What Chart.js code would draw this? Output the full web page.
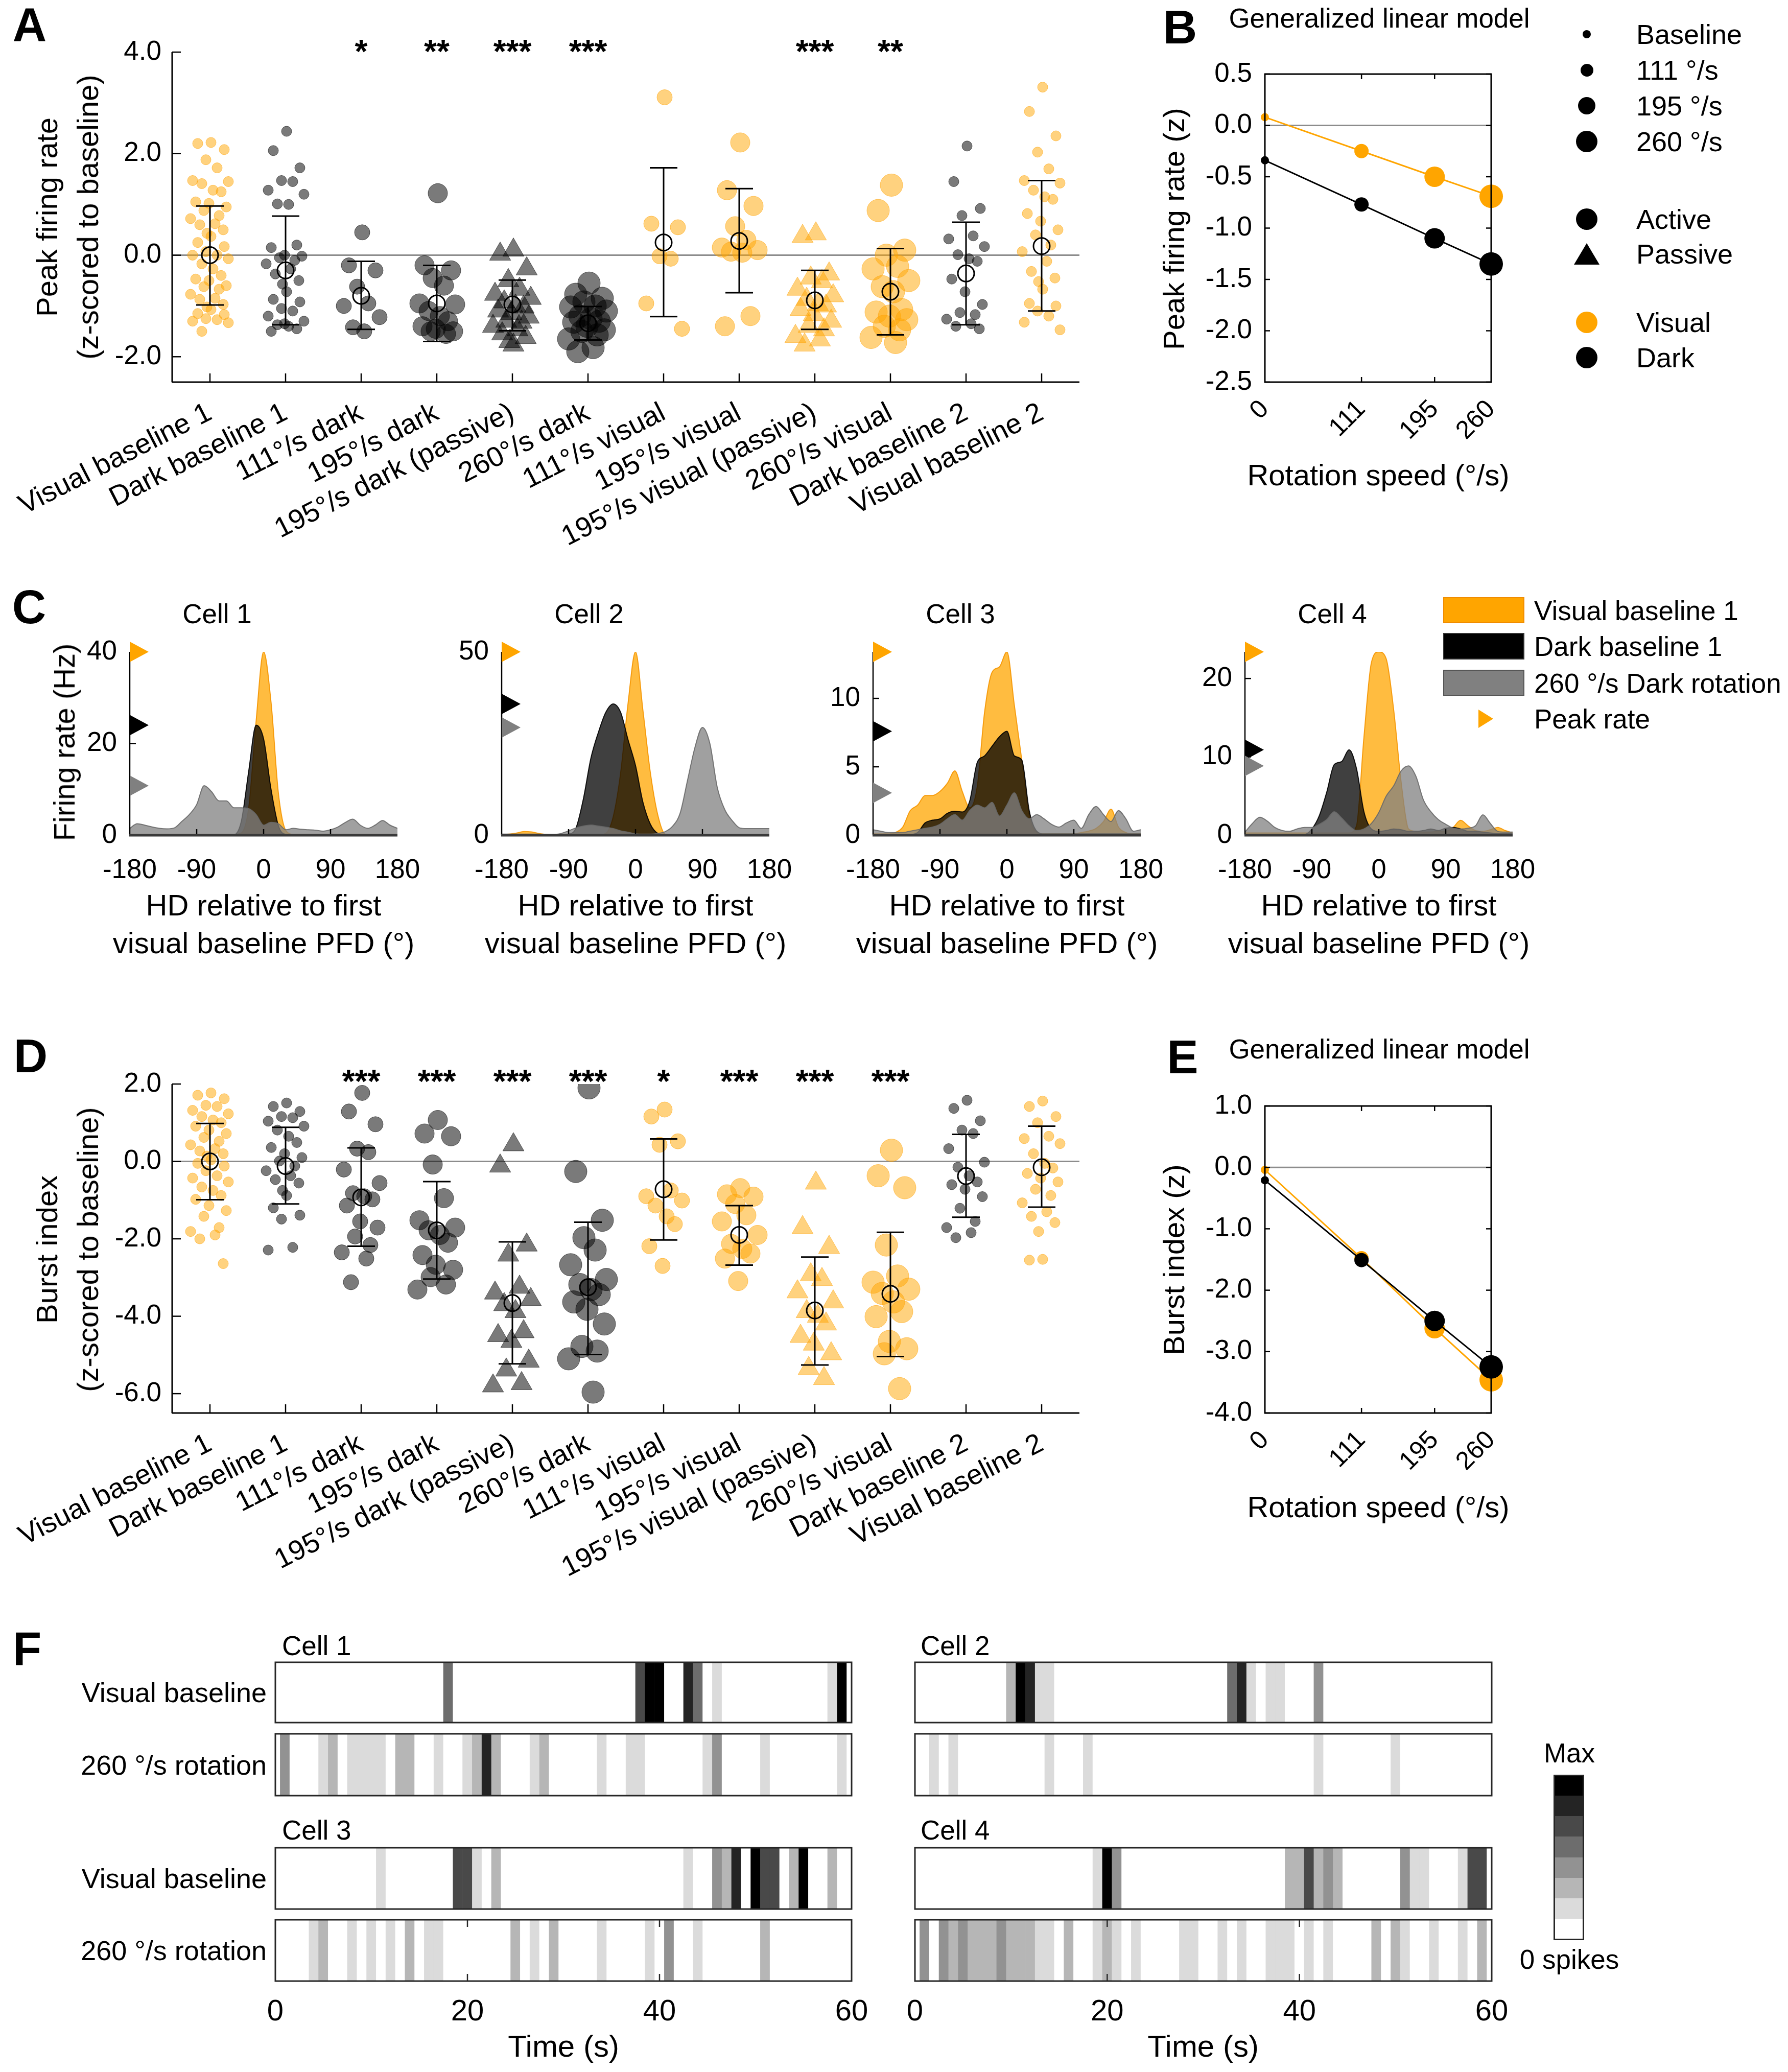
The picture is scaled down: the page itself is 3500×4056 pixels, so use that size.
<!DOCTYPE html>
<html>
<head>
<meta charset="utf-8">
<script src="https://cdn.jsdelivr.net/npm/chart.js@4.4.1/dist/chart.umd.min.js"></script>
<style>
  body { margin: 0; background: #fff; }
  #page { position: relative; width: 3500px; height: 4056px; overflow: hidden; background: #fff;
          font-family: "Liberation Sans", Arial, sans-serif; color: #000; }
  #page canvas { position: absolute; }
  .txt { position: absolute; white-space: nowrap; line-height: 1; }
  .sw { position: absolute; box-sizing: border-box; }
</style>
</head>
<body>
<div id="page"></div>
<script>
// ---------- A / D : per-condition values ----------
const condLabels = ['Visual baseline 1', 'Dark baseline 1', '111°/s dark', '195°/s dark', '195°/s dark (passive)',
  '260°/s dark', '111°/s visual', '195°/s visual', '195°/s visual (passive)', '260°/s visual',
  'Dark baseline 2', 'Visual baseline 2'];

const peakRate = [
  [2.22, 2.2, 2.08, 1.88, 1.72, 1.47, 1.45, 1.41, 1.28, 1.25, 1.05, 1.02, 0.95, 0.88, 0.78, 0.72, 0.62, 0.6, 0.5, 0.43, 0.37, 0.25, 0.17, 0.07, 0.0, 0.0, -0.07, -0.17, -0.27, -0.4, -0.47, -0.5, -0.6, -0.62, -0.67, -0.77, -0.85, -0.87, -0.97, -1.02, -1.07, -1.15, -1.17, -1.25, -1.27, -1.3, -1.33, -1.5],
  [2.44, 2.06, 1.72, 1.47, 1.45, 1.28, 1.2, 1.01, 1.0, 0.2, 0.15, 0.0, -0.02, -0.05, -0.1, -0.17, -0.27, -0.37, -0.5, -0.57, -0.72, -0.87, -0.92, -1.05, -1.1, -1.2, -1.3, -1.37, -1.4, -1.45, -1.5, -1.35],
  [0.45, -0.2, -0.3, -0.62, -0.95, -1.0, -1.22, -1.42, -1.5],
  [1.22, -0.2, -0.3, -0.45, -0.6, -0.95, -0.97, -1.1, -1.2, -1.3, -1.4, -1.45, -1.5, -1.5, -1.55],
  [0.1, 0.02, -0.27, -0.5, -0.67, -0.77, -0.85, -0.92, -1.0, -1.02, -1.1, -1.15, -1.22, -1.3, -1.32, -1.4, -1.47, -1.55, -1.62, -1.7, -1.77],
  [-0.55, -0.77, -0.85, -0.92, -1.0, -1.02, -1.1, -1.2, -1.25, -1.3, -1.32, -1.4, -1.47, -1.5, -1.57, -1.65, -1.82, -1.9],
  [3.11, 0.62, 0.55, -0.02, -0.07, -0.95, -1.45],
  [2.22, 1.28, 0.97, 0.57, 0.3, 0.15, 0.1, 0.07, 0.05, -1.2, -1.4],
  [0.42, 0.37, -0.37, -0.45, -0.52, -0.67, -0.8, -0.87, -0.97, -1.0, -1.07, -1.17, -1.3, -1.4, -1.47, -1.6, -1.67, -1.77],
  [1.38, 0.88, 0.1, 0.0, -0.22, -0.27, -0.5, -0.62, -0.72, -1.07, -1.12, -1.2, -1.27, -1.4, -1.47, -1.62, -1.72],
  [2.15, 1.45, 0.92, 0.78, 0.38, 0.32, 0.17, 0.01, -0.07, -0.12, -0.47, -0.72, -0.97, -1.13, -1.17, -1.26, -1.35, -1.4, -1.45],
  [3.31, 2.83, 2.35, 2.03, 1.7, 1.47, 1.42, 1.28, 1.15, 1.1, 0.82, 0.67, 0.5, 0.4, 0.2, 0.07, -0.12, -0.32, -0.45, -0.52, -0.67, -0.95, -1.0, -1.1, -1.2, -1.32, -1.47]
];
const peakMean = [0, -0.3, -0.8, -0.95, -0.97, -1.34, 0.25, 0.28, -0.89, -0.72, -0.36, 0.18];
const peakHi = [0.97, 0.77, -0.12, -0.2, -0.49, -1.01, 1.72, 1.31, -0.3, 0.13, 0.65, 1.47];
const peakLo = [-0.98, -1.37, -1.46, -1.7, -1.49, -1.67, -1.21, -0.74, -1.46, -1.57, -1.37, -1.1];
const peakStars = ['', '', '*', '**', '***', '***', '', '', '***', '**', '', ''];
const peakTicks = [-2, 0, 2, 4];

const burstIndex = [
  [1.77, 1.71, 1.62, 1.45, 1.42, 1.32, 1.23, 1.16, 1.07, 1.0, 0.91, 0.81, 0.72, 0.62, 0.52, 0.43, 0.33, 0.27, 0.2, 0.14, 0.04, -0.05, -0.12, -0.24, -0.37, -0.43, -0.53, -0.66, -0.75, -0.88, -0.98, -1.14, -1.27, -1.42, -1.71, -1.81, -1.9, -2.0, -2.64],
  [1.51, 1.42, 1.29, 1.16, 1.13, 1.04, 0.91, 0.81, 0.65, 0.49, 0.36, 0.2, 0.1, 0.01, -0.12, -0.24, -0.37, -0.47, -0.56, -0.75, -0.88, -1.2, -1.39, -1.49, -2.22, -2.29],
  [1.77, 1.29, 0.96, 0.33, 0.24, -0.21, -0.56, -0.82, -0.9, -0.98, -1.14, -1.55, -1.71, -1.94, -2.16, -2.35, -2.51, -3.12],
  [1.07, 0.72, 0.65, -0.08, -0.95, -1.52, -1.71, -1.78, -1.9, -2.1, -2.42, -2.67, -2.8, -2.99, -3.18, -3.31],
  [0.43, -0.12, -2.16, -2.42, -3.25, -3.4, -3.57, -3.7, -3.88, -4.4, -4.5, -4.65, -5.16, -5.39, -5.74, -5.8],
  [1.9, -0.26, -1.52, -1.97, -2.29, -2.67, -3.05, -3.18, -3.31, -3.44, -3.63, -3.82, -4.2, -4.78, -4.9, -5.1, -5.96],
  [1.34, 1.16, 0.52, 0.43, -0.75, -0.9, -1.01, -1.14, -1.42, -1.62, -2.19, -2.7],
  [-0.69, -0.85, -0.91, -1.1, -1.39, -1.55, -1.9, -2.13, -2.26, -2.38, -2.51, -3.09],
  [-0.56, -1.71, -2.22, -2.93, -3.05, -3.37, -3.63, -3.88, -4.0, -4.2, -4.52, -4.72, -4.97, -5.35, -5.61],
  [0.29, -0.37, -0.68, -2.16, -2.96, -3.12, -3.3, -3.41, -3.63, -3.88, -4.01, -4.65, -4.84, -4.97, -5.87],
  [1.58, 1.37, 1.05, 0.81, 0.72, 0.33, -0.02, -0.15, -0.37, -0.53, -0.6, -0.72, -0.91, -1.21, -1.55, -1.71, -1.84, -1.97],
  [1.56, 1.42, 1.16, 1.0, 0.65, 0.59, 0.46, 0.2, -0.05, -0.17, -0.31, -0.43, -0.53, -0.72, -0.88, -1.07, -1.3, -1.42, -1.58, -1.81, -2.53, -2.55]
];
const burstMean = [0, -0.12, -0.93, -1.78, -3.66, -3.25, -0.72, -1.9, -3.85, -3.42, -0.38, -0.15];
const burstHi = [0.98, 0.88, 0.35, -0.52, -2.08, -1.57, 0.58, -1.14, -2.47, -1.83, 0.7, 0.91];
const burstLo = [-0.99, -1.1, -2.19, -3.04, -5.23, -4.99, -2.03, -2.68, -5.26, -5.04, -1.44, -1.18];
const burstStars = ['', '', '***', '***', '***', '***', '*', '***', '***', '***', '', ''];
const burstTicks = [-6, -4, -2, 0, 2];

// ---------- B / E : GLM fits ----------
const speeds = [0, 111, 195, 260];
const glmPeakVisual = [0.08, -0.25, -0.5, -0.69];
const glmPeakDark = [-0.34, -0.77, -1.1, -1.35];
const glmBurstVisual = [-0.04, -1.48, -2.62, -3.46];
const glmBurstDark = [-0.21, -1.51, -2.5, -3.25];
const glmPeakTicks = [0.5, 0, -0.5, -1, -1.5, -2, -2.5];
const glmBurstTicks = [1, 0, -1, -2, -3, -4];

// ---------- C : tuning curves ----------
const hdAngles = [-180, -170, -160, -150, -140, -130, -120, -110, -100, -90, -80, -70, -60, -50, -40, -30, -20, -10, 0, 10, 20, 30, 40, 50, 60, 70, 80, 90, 100, 110, 120, 130, 140, 150, 160, 170, 180];
const hdTicks = [-180, -90, 0, 90, 180];
const cell1Visual = [0.2, 0.2, 0.2, 0.2, 0.2, 0.2, 0.2, 0.2, 0.2, 0.2, 0.2, 0.2, 0.2, 0.2, 0.2, 0.5, 6, 25, 40, 29, 9, 1, 0.2, 0.2, 0.2, 0.2, 0.2, 0.2, 0.2, 0.2, 0.2, 0.2, 0.2, 0.2, 0.2, 0.2, 0.2];
const cell1Dark = [0.1, 0.1, 0.1, 0.1, 0.1, 0.1, 0.1, 0.1, 0.1, 0.1, 0.1, 0.1, 0.1, 0.1, 0.1, 3, 14, 24, 21, 10, 2, 0.2, 0.1, 0.1, 0.1, 0.1, 0.1, 0.1, 0.1, 0.1, 0.1, 0.1, 0.1, 0.1, 0.1, 0.1, 0.1];
const cell1Rot = [1.5, 2.5, 2.2, 1.8, 1.5, 1.4, 1.6, 3, 4.5, 6.7, 10.8, 9.5, 7.5, 7.5, 6, 6, 5.8, 4.5, 2.2, 2.8, 2.5, 1.2, 1.5, 1.3, 1.2, 1.1, 0.9, 1.2, 1.8, 2.8, 3.5, 2.2, 1.5, 2.2, 3.2, 2.2, 1.5];
const cell2Visual = [0.2, 0.3, 0.6, 1.0, 0.9, 0.5, 0.2, 0.1, 0.1, 0.1, 0.1, 0.1, 0.1, 0.1, 0.5, 5, 17, 36, 50, 34, 17, 5.5, 0.3, 0.1, 0.1, 0.1, 0.1, 0.1, 0.1, 0.1, 0.1, 0.1, 0.1, 0.1, 0.1, 0.1, 0.1];
const cell2Dark = [0.1, 0.1, 0.1, 0.1, 0.1, 0.1, 0.1, 0.1, 0.1, 0.3, 2, 10, 21, 28, 33.5, 35.8, 33.5, 26, 19, 9, 3, 0.5, 0.1, 0.1, 0.1, 0.1, 0.1, 0.1, 0.1, 0.1, 0.1, 0.1, 0.1, 0.1, 0.1, 0.1, 0.1];
const cell2Rot = [0.3, 0.3, 0.3, 0.3, 0.3, 0.3, 0.2, 0.2, 0.5, 1.2, 2, 2.5, 2.8, 2.5, 2.2, 1.8, 1.2, 0.8, 0.4, 0.3, 0.3, 0.5, 1, 2.5, 6, 15, 24, 29.4, 25, 13, 7, 4, 2, 1.8, 1.8, 1.8, 1.8];
const cell3Visual = [0.1, 0.1, 0.1, 0.2, 0.6, 1.8, 2.2, 2.9, 2.9, 3.2, 3.8, 4.7, 3.2, 2.0, 3.5, 9, 11.9, 12.3, 13.4, 9.5, 5.5, 1.5, 0.2, 0.1, 0.1, 0.1, 0.1, 0.1, 0.2, 0.3, 0.5, 1.0, 1.9, 0.6, 0.2, 0.1, 0.1];
const cell3Dark = [0.05, 0.05, 0.05, 0.05, 0.05, 0.05, 0.2, 0.9, 1.1, 1.2, 1.6, 1.75, 1.7, 2.5, 5.3, 5.8, 6.5, 7.2, 7.6, 5.8, 5.5, 1.8, 0.3, 0.1, 0.1, 0.1, 0.1, 0.1, 0.1, 0.1, 0.1, 0.1, 0.1, 0.1, 0.1, 0.1, 0.1];
const cell3Rot = [0.4, 0.3, 0.2, 0.2, 0.2, 0.3, 0.4, 0.5, 0.6, 0.8, 1.2, 1.5, 1.1, 1.8, 2.2, 2.0, 2.4, 1.4, 2.2, 3.1, 1.8, 1.2, 1.5, 1.2, 0.8, 0.6, 0.9, 1.1, 0.5, 1.5, 2.1, 1.5, 1.0, 1.8, 1.2, 0.3, 0.4];
const cell4Visual = [0.3, 0.3, 0.3, 0.3, 0.3, 0.3, 0.3, 0.3, 0.3, 0.3, 0.3, 0.3, 0.3, 0.3, 0.3, 1.2, 12.5, 22, 23.4, 22.5, 16, 6.8, 0.8, 0.5, 0.4, 0.4, 0.5, 0.5, 1.0, 1.9, 1.2, 0.6, 0.5, 0.7, 1.0, 0.6, 0.3];
const cell4Dark = [0.1, 0.1, 0.1, 0.1, 0.1, 0.1, 0.1, 0.1, 0.1, 0.8, 2.5, 5.5, 9, 9.4, 10.9, 8.5, 3.0, 0.8, 0.5, 0.6, 0.8, 0.7, 0.5, 0.5, 0.6, 0.8, 0.6, 0.9, 1.0, 0.8, 0.5, 0.5, 0.4, 0.3, 0.2, 0.2, 0.2];
const cell4Rot = [0.4, 1.5, 2.3, 1.8, 1.0, 0.6, 0.5, 0.8, 1.0, 1.0, 1.4, 2.0, 3.0, 2.2, 1.2, 0.6, 0.8, 1.5, 2.9, 5.0, 6.3, 8.2, 8.85, 7.5, 4.5, 3.0, 2.0, 1.4, 0.9, 0.8, 0.9, 1.2, 2.6, 1.5, 0.5, 0.4, 0.4];
const peakVisualHz = [40, 50, 13.4, 23.4];
const peakDarkHz = [24, 35.8, 7.6, 10.9];
const peakRotHz = [10.8, 29.4, 3.1, 8.85];
const cellYTicks = [[0, 20, 40], [0, 50], [0, 5, 10], [0, 10, 20]];

// ---------- F : spike-count strips, [time bin (s), grey level 0-7] ----------
const timeTicks = [0, 20, 40, 60];
const cell1VisualBins = [[18, 4], [38, 5], [39, 7], [40, 7], [43, 6], [44, 4], [46, 1], [58, 1], [59, 7]];
const cell1RotBins = [[1, 3], [5, 1], [6, 2], [8, 1], [9, 1], [10, 1], [11, 1], [13, 2], [14, 2], [17, 1], [20, 1], [21, 2], [22, 6], [23, 2], [27, 1], [28, 2], [34, 1], [37, 1], [38, 1], [45, 1], [46, 3], [51, 1], [59, 1]];
const cell3VisualBins = [[11, 1], [19, 5], [20, 5], [21, 1], [23, 2], [43, 1], [46, 3], [47, 2], [48, 6], [50, 7], [51, 5], [52, 5], [54, 2], [55, 7], [58, 2]];
const cell3RotBins = [[4, 1], [5, 2], [8, 1], [10, 1], [12, 1], [14, 2], [16, 1], [17, 1], [25, 2], [27, 1], [29, 2], [34, 1], [39, 1], [41, 3], [44, 1], [51, 2]];
const cell2VisualBins = [[10, 2], [11, 7], [12, 6], [13, 1], [14, 1], [33, 4], [34, 6], [35, 1], [37, 1], [38, 1], [42, 3]];
const cell2RotBins = [[2, 1], [4, 1], [14, 1], [18, 1], [42, 1], [50, 1]];
const cell4VisualBins = [[19, 1], [20, 7], [21, 3], [39, 2], [40, 2], [41, 5], [42, 2], [43, 3], [44, 2], [51, 3], [52, 1], [53, 1], [57, 1], [58, 5], [59, 5]];
const cell4RotBins = [[1, 3], [3, 3], [4, 2], [5, 3], [6, 2], [7, 2], [8, 2], [9, 3], [10, 2], [11, 2], [12, 2], [13, 1], [14, 1], [16, 2], [19, 1], [20, 2], [21, 1], [23, 1], [28, 1], [29, 1], [32, 1], [34, 1], [37, 1], [38, 1], [39, 1], [41, 1], [43, 1], [48, 2], [50, 2], [51, 1], [54, 1], [57, 1], [59, 2]];

// ---------- styles ----------
const ORANGE = '#FFA500';
const condVisual = [true, false, false, false, false, false, true, true, true, true, false, true];
const condPassive = [false, false, false, false, true, false, false, false, true, false, false, false];
const condRadius = [10, 10, 15, 19, 24, 22, 15, 19, 24, 22, 10, 10];
const jitter = [0.05, -0.6, 0.7, -0.2, 0.35, -0.85, 0.9, -0.4, 0.15, 0.55, -0.7, -0.05, 0.8, -0.3, 0.45, -0.95, 0.25, -0.5, 0.65, -0.15];
const glmRadius = [8, 14, 20, 23];
const FONT = '"Liberation Sans", Arial, sans-serif';

Chart.defaults.font.family = FONT;
Chart.defaults.color = '#000';

const page = document.getElementById('page');

function addText(str, x, y, size, o = {}) {
  const d = document.createElement('div');
  d.className = 'txt';
  d.textContent = str;
  const ax = o.align === 'left' ? '0' : o.align === 'right' ? '-100%' : '-50%';
  d.style.left = x + 'px';
  d.style.top = y + 'px';
  d.style.fontSize = size + 'px';
  if (o.bold) d.style.fontWeight = 'bold';
  d.style.transform = `translate(${ax},-50%)` + (o.rot ? ` rotate(${o.rot}deg)` : '');
  page.appendChild(d);
}

function addBox(x, y, w, h, css) {
  const d = document.createElement('div');
  d.className = 'sw';
  d.style.cssText += `left:${x}px;top:${y}px;width:${w}px;height:${h}px;` + css;
  page.appendChild(d);
}

// area = [left, top, right, bottom] of the plot area on the page, m = [l, t, r, b] margins
function plotAt(area, m, cfg) {
  const [l, t, r, b] = area;
  const c = document.createElement('canvas');
  const w = r - l + m[0] + m[2], h = b - t + m[1] + m[3];
  c.width = w; c.height = h;
  c.style.left = (l - m[0]) + 'px';
  c.style.top = (t - m[1]) + 'px';
  c.style.width = w + 'px';
  c.style.height = h + 'px';
  page.appendChild(c);
  const o = cfg.options;
  o.responsive = false;
  o.animation = false;
  o.devicePixelRatio = 1;
  o.layout = { autoPadding: false, padding: { left: 0, top: m[1], right: m[2], bottom: 0 } };
  o.scales.x.afterFit = s => { s.height = m[3]; s.paddingLeft = 0; s.paddingRight = 0; };
  o.scales.y.afterFit = s => { s.width = m[0]; s.paddingTop = 0; s.paddingBottom = 0; };
  o.plugins = Object.assign({ legend: { display: false }, tooltip: { enabled: false } }, o.plugins || {});
  return new Chart(c, cfg);
}

function axisCfg(min, max, ticks, fmt, tickOpts) {
  return {
    type: 'linear', min, max, offset: false,
    grid: { display: false, drawTicks: false, tickLength: 0, offset: false },
    border: { display: false },
    afterBuildTicks: s => { s.ticks = ticks.map(v => ({ value: v })); },
    ticks: Object.assign({ autoSkip: false, maxRotation: 0, minRotation: 0, color: '#000',
      font: { size: 53 }, padding: 20, callback: fmt }, tickOpts || {})
  };
}

const zeroLine = {
  id: 'zeroLine',
  beforeDatasetsDraw(chart) {
    const { ctx, chartArea: a, scales: { y } } = chart;
    const p = y.getPixelForValue(0);
    ctx.save();
    ctx.strokeStyle = '#8c8c8c';
    ctx.lineWidth = 3;
    ctx.beginPath(); ctx.moveTo(a.left, p); ctx.lineTo(a.right, p); ctx.stroke();
    ctx.restore();
  }
};

function axesPlugin(o) {
  return {
    id: 'axes',
    afterDatasetsDraw(chart) {
      const { ctx, chartArea: a, scales: { x, y } } = chart;
      const seg = (x1, y1, x2, y2, lw, col) => {
        ctx.lineWidth = lw; ctx.strokeStyle = col;
        ctx.beginPath(); ctx.moveTo(x1, y1); ctx.lineTo(x2, y2); ctx.stroke();
      };
      const lw = o.lw || 3, col = o.color || '#000', tl = o.tick || 0;
      ctx.save();
      (o.xt || []).forEach(v => {
        const p = x.getPixelForValue(v);
        seg(p, a.bottom, p, a.bottom - tl, 2.5, col);
        if (o.box) seg(p, a.top, p, a.top + tl, 2.5, col);
      });
      (o.yt || []).forEach(v => {
        const p = y.getPixelForValue(v);
        seg(a.left, p, a.left + tl, p, 2.5, col);
        if (o.box) seg(a.right, p, a.right - tl, p, 2.5, col);
      });
      if (o.box) {
        ctx.lineWidth = lw; ctx.strokeStyle = col;
        ctx.strokeRect(a.left, a.top, a.right - a.left, a.bottom - a.top);
      } else {
        seg(a.left, a.top, a.left, a.bottom, o.ylw || lw, o.ycol || col);
        seg(a.left - 1, a.bottom, a.right, a.bottom, o.xlw || lw, o.xcol || col);
      }
      ctx.restore();
    }
  };
}

function errPlugin(mean, hi, lo) {
  return {
    id: 'errbars',
    afterDatasetsDraw(chart) {
      const { ctx, scales: { x, y } } = chart;
      ctx.save();
      ctx.strokeStyle = '#000';
      ctx.lineWidth = 3;
      mean.forEach((m, i) => {
        const px = x.getPixelForValue(i + 1);
        const ph = y.getPixelForValue(hi[i]), pl = y.getPixelForValue(lo[i]);
        ctx.beginPath();
        ctx.moveTo(px, ph); ctx.lineTo(px, pl);
        ctx.moveTo(px - 27, ph); ctx.lineTo(px + 27, ph);
        ctx.moveTo(px - 27, pl); ctx.lineTo(px + 27, pl);
        ctx.stroke();
      });
      ctx.restore();
    }
  };
}

function starsPlugin(stars, dy) {
  return {
    id: 'stars',
    afterDraw(chart) {
      const { ctx, chartArea: a, scales: { x } } = chart;
      ctx.save();
      ctx.font = 'bold 64px ' + FONT;
      ctx.textAlign = 'center';
      ctx.textBaseline = 'alphabetic';
      ctx.fillStyle = '#000';
      stars.forEach((s, i) => { if (s) ctx.fillText(s, x.getPixelForValue(i + 1), a.top + dy); });
      ctx.restore();
    }
  };
}

// ---------- panels A and D ----------
function conditionPanel(area, vals, mean, hi, lo, stars, yMin, yMax, yTicks, starDy) {
  const datasets = [{
    data: mean.map((m, i) => ({ x: i + 1, y: m })),
    pointRadius: 16, pointBorderWidth: 3, pointBorderColor: '#000',
    pointBackgroundColor: 'rgba(0,0,0,0)', order: 0
  }];
  vals.forEach((arr, c) => {
    const vis = condVisual[c];
    datasets.push({
      data: arr.map((v, k) => ({ x: c + 1 + jitter[k % jitter.length] * 0.27, y: v })),
      pointStyle: condPassive[c] ? 'triangle' : 'circle',
      pointRadius: condRadius[c],
      pointBackgroundColor: vis ? 'rgba(255,166,0,0.5)' : 'rgba(0,0,0,0.52)',
      pointBorderColor: vis ? 'rgba(255,160,0,0.55)' : 'rgba(0,0,0,0.55)',
      pointBorderWidth: 1,
      order: 1
    });
  });
  plotAt(area, [337, 80, 40, 352], {
    type: 'scatter',
    data: { datasets },
    options: {
      scales: {
        x: axisCfg(0.5, 12.5, condLabels.map((_, i) => i + 1), v => condLabels[v - 1],
          { maxRotation: 27, minRotation: 27, padding: 28, font: { size: 55 } }),
        y: axisCfg(yMin, yMax, yTicks, v => v.toFixed(1), { padding: 21 })
      }
    },
    plugins: [zeroLine, errPlugin(mean, hi, lo),
      axesPlugin({ tick: 17, xt: condLabels.map((_, i) => i + 1), yt: yTicks }),
      starsPlugin(stars, starDy)]
  });
}

conditionPanel([337, 102, 2113, 748], peakRate, peakMean, peakHi, peakLo, peakStars, -2.5, 4, peakTicks, 21);
conditionPanel([337, 2122, 2113, 2766], burstIndex, burstMean, burstHi, burstLo, burstStars, -6.5, 2, burstTicks, 17);

// ---------- panels B and E ----------
function glmPanel(area, vis, dark, yMin, yMax, yTicks) {
  const ds = (vals, col, order) => ({
    data: speeds.map((s, i) => ({ x: s, y: vals[i] })),
    borderColor: col, backgroundColor: col, borderWidth: 3,
    pointRadius: glmRadius, pointBackgroundColor: col, pointBorderColor: col, pointBorderWidth: 0,
    clip: false, order
  });
  plotAt(area, [130, 40, 40, 150], {
    type: 'line',
    data: { datasets: [ds(dark, '#000', 1), ds(vis, ORANGE, 2)] },
    options: {
      scales: {
        x: axisCfg(0, 260, speeds, v => String(v), { maxRotation: 45, minRotation: 45, padding: 24, font: { size: 50 } }),
        y: axisCfg(yMin, yMax, yTicks, v => v.toFixed(1), { padding: 25 })
      }
    },
    plugins: [zeroLine, axesPlugin({ box: true, tick: 10, xt: [111, 195], yt: yTicks, lw: 3 })]
  });
}

glmPanel([2476, 145, 2919, 748], glmPeakVisual, glmPeakDark, -2.5, 0.5, glmPeakTicks);
glmPanel([2476, 2165, 2919, 2766], glmBurstVisual, glmBurstDark, -4, 1, glmBurstTicks);

// ---------- panel C ----------
function peakMarks(marks) {
  return {
    id: 'peakMarks',
    afterDatasetsDraw(chart) {
      const { ctx, chartArea: a, scales: { y } } = chart;
      ctx.save();
      marks.forEach(([v, col]) => {
        const p = y.getPixelForValue(v);
        ctx.fillStyle = col;
        ctx.beginPath();
        ctx.moveTo(a.left, p - 20); ctx.lineTo(a.left + 37, p); ctx.lineTo(a.left, p + 20);
        ctx.closePath(); ctx.fill();
      });
      ctx.restore();
    }
  };
}

function hdSeries(vals, fill, line, order) {
  return {
    data: vals.map((v, i) => ({ x: hdAngles[i], y: v })),
    fill: 'origin', backgroundColor: fill, borderColor: line, borderWidth: 2,
    pointRadius: 0, cubicInterpolationMode: 'monotone', order
  };
}

const cellCurves = [
  [cell1Visual, cell1Dark, cell1Rot], [cell2Visual, cell2Dark, cell2Rot],
  [cell3Visual, cell3Dark, cell3Rot], [cell4Visual, cell4Dark, cell4Rot]
];
const cellLeft = [254, 982, 1709, 2437];
cellCurves.forEach(([vis, dark, rot], i) => {
  plotAt([cellLeft[i], 1276, cellLeft[i] + 524, 1635], [120, 30, 45, 100], {
    type: 'line',
    data: {
      datasets: [
        hdSeries(rot, 'rgba(128,128,128,0.75)', 'rgba(105,105,105,0.9)', 1),
        hdSeries(dark, 'rgba(0,0,0,0.75)', 'rgba(0,0,0,0.9)', 2),
        hdSeries(vis, 'rgba(255,165,0,0.75)', 'rgba(245,150,0,0.9)', 3)
      ]
    },
    options: {
      scales: {
        x: axisCfg(-180, 180, hdTicks, v => String(v), { padding: 38 }),
        y: axisCfg(0, peakVisualHz[i], cellYTicks[i], v => String(v), { padding: 25 })
      }
    },
    plugins: [
      axesPlugin({ tick: 12, xt: [-90, 0, 90], yt: cellYTicks[i].slice(1), ylw: 2.5, xlw: 5, xcol: '#3a3a3a' }),
      peakMarks([[peakVisualHz[i], ORANGE], [peakDarkHz[i], '#000'], [peakRotHz[i], '#808080']])
    ]
  });
});

// ---------- panel F ----------
const levelColor = l => { const v = Math.round(255 * (1 - l / 7)); return `rgb(${v},${v},${v})`; };

function stripPlot(area, spikes, bottom) {
  const bins = new Array(61).fill(0);
  spikes.forEach(([t, l]) => { bins[t] = l; });
  plotAt(area, [40, 6, 40, bottom ? 110 : 6], {
    type: 'bar',
    data: {
      datasets: [{
        data: bins.map((l, t) => ({ x: t, y: 1 })),
        backgroundColor: bins.map(levelColor),
        barPercentage: 1, categoryPercentage: 1, borderWidth: 0, clip: 0
      }]
    },
    options: {
      scales: {
        x: axisCfg(0, 60, timeTicks, v => String(v), { display: bottom, padding: 26, font: { size: 58 } }),
        y: axisCfg(0, 1, [], v => '', { display: false })
      }
    },
    plugins: [axesPlugin({ box: true, tick: bottom ? 14 : 0, xt: bottom ? [20, 40] : [], lw: 3, color: '#262626' })]
  });
}

const stripRows = [[3254, 3372], [3394, 3515], [3617, 3737], [3758, 3878]];
[cell1VisualBins, cell1RotBins, cell3VisualBins, cell3RotBins].forEach((s, i) =>
  stripPlot([539, stripRows[i][0], 1667, stripRows[i][1]], s, i === 3));
[cell2VisualBins, cell2RotBins, cell4VisualBins, cell4RotBins].forEach((s, i) =>
  stripPlot([1791, stripRows[i][0], 2920, stripRows[i][1]], s, i === 3));

// colour bar
for (let l = 7; l >= 0; l--) {
  addBox(3042, 3475 + (7 - l) * 40.125, 58, 41, `background:${levelColor(l)};`);
}
addBox(3041, 3474, 60, 324, 'border:3px solid #262626;');

// ---------- text ----------
const L = 92;
addText('A', 58, 48, L, { bold: true });
addText('B', 2310, 53, L, { bold: true });
addText('C', 57, 1188, L, { bold: true });
addText('D', 60, 2067, L, { bold: true });
addText('E', 2315, 2069, L, { bold: true });
addText('F', 53, 3227, L, { bold: true });

addText('Peak firing rate', 92, 425, 58, { rot: -90 });
addText('(z-scored to baseline)', 172, 425, 58, { rot: -90 });
addText('Burst index', 92, 2446, 58, { rot: -90 });
addText('(z-scored to baseline)', 172, 2446, 58, { rot: -90 });

addText('Generalized linear model', 2700, 35, 53);
addText('Generalized linear model', 2700, 2053, 53);
addText('Peak firing rate (z)', 2298, 448, 58, { rot: -90 });
addText('Burst index (z)', 2298, 2466, 58, { rot: -90 });
addText('Rotation speed (°/s)', 2698, 930, 58);
addText('Rotation speed (°/s)', 2698, 2950, 58);

// B legend
const bLegend = [['Baseline', 67, 16], ['111 °/s', 137, 25], ['195 °/s', 207, 34], ['260 °/s', 277, 42],
  ['Active', 429, 42], ['Passive', 497, 0], ['Visual', 631, 42], ['Dark', 700, 42]];
bLegend.forEach(([t, y, d]) => {
  if (t === 'Passive') {
    addBox(3081, 476, 0, 0, 'border-left:25px solid transparent;border-right:25px solid transparent;border-bottom:42px solid #000;');
  } else {
    addBox(3106 - d / 2, y - d / 2, d, d, `border-radius:50%;background:${t === 'Visual' ? ORANGE : '#000'};`);
  }
  addText(t, 3203, y, 54, { align: 'left' });
});

// C labels
addText('Firing rate (Hz)', 126, 1453, 58, { rot: -90 });
['Cell 1', 'Cell 2', 'Cell 3', 'Cell 4'].forEach((t, i) => {
  addText(t, cellLeft[i] + 171, 1201, 53);
  addText('HD relative to first', cellLeft[i] + 262, 1772, 58);
  addText('visual baseline PFD (°)', cellLeft[i] + 262, 1846, 58);
});
addBox(2825, 1169, 159, 51, `background:${ORANGE};border:2px solid #f08c00;`);
addBox(2825, 1239, 159, 52, 'background:#000;border:2px solid #333;');
addBox(2825, 1311, 159, 51, 'background:#808080;border:2px solid #555;');
addBox(2894, 1389, 0, 0, `border-top:18px solid transparent;border-bottom:18px solid transparent;border-left:29px solid ${ORANGE};`);
addText('Visual baseline 1', 3003, 1195, 53, { align: 'left' });
addText('Dark baseline 1', 3003, 1265, 53, { align: 'left' });
addText('260 °/s Dark rotation', 3003, 1337, 53, { align: 'left' });
addText('Peak rate', 3003, 1407, 53, { align: 'left' });

// F labels
addText('Cell 1', 552, 3221, 53, { align: 'left' });
addText('Cell 3', 552, 3582, 53, { align: 'left' });
addText('Cell 2', 1802, 3221, 53, { align: 'left' });
addText('Cell 4', 1802, 3582, 53, { align: 'left' });
addText('Visual baseline', 522, 3313, 54, { align: 'right' });
addText('260 °/s rotation', 522, 3455, 54, { align: 'right' });
addText('Visual baseline', 522, 3677, 54, { align: 'right' });
addText('260 °/s rotation', 522, 3818, 54, { align: 'right' });
addText('Time (s)', 1103, 4006, 60);
addText('Time (s)', 2355, 4006, 60);
addText('Max', 3072, 3431, 53);
addText('0 spikes', 3072, 3835, 53);
</script>
</body>
</html>
